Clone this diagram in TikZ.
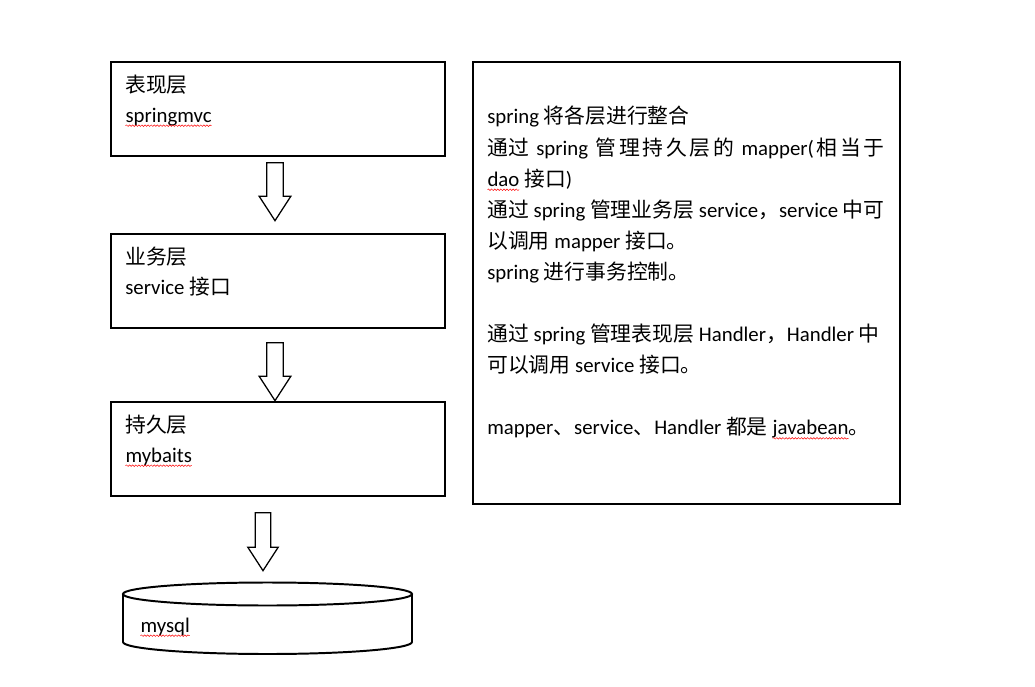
\documentclass[tikz,border=0pt]{standalone}
\usepackage{fontspec}
\setmainfont{Carlito}
\newfontfamily\cjk{Noto Sans CJK SC}
\usepackage{tikz}
\usetikzlibrary{shapes.arrows, positioning, decorations.pathmorphing}

\tikzset{squiggle/.style={draw=red, line width=0.35pt, decorate, decoration={snake, segment length=2.2pt, amplitude=0.55pt}}}

\newcommand{\zh}[1]{{\cjk #1}}
\newcommand{\fl}{\hskip 0pt plus 1fil}
\newcommand{\typo}[1]{\tikz[baseline=(w.base)]{\node[inner sep=0pt, outer sep=0pt, anchor=base] (w) {#1}; \path[squiggle] ([yshift=-2.6pt]w.base west) -- ([yshift=-2.6pt]w.base east);}}
\newcommand{\bodyfont}{\fontsize{14.8pt}{22.1pt}\selectfont}

\begin{document}
\begin{tikzpicture}[x=0.025cm, y=-0.025cm,
    layer/.style={draw, line width=1.4pt, minimum width=8.35cm, minimum height=2.35cm, anchor=north west, inner sep=0pt},
    note/.style={draw, line width=1.4pt, minimum width=10.675cm, minimum height=11.05cm, anchor=north west, inner sep=0pt},
    txt/.style={anchor=base west, inner sep=0pt, font=\bodyfont},
    down/.style={draw, line width=0.9pt, single arrow, rotate=-90, anchor=tail, inner sep=0.19cm, single arrow head extend=0.19cm, single arrow tip angle=66, minimum height=1.45cm}
]
    \useasboundingbox (0,0) rectangle (1035,686);

    % left column of layers
    \node[layer] (pres) at (110,61) {};
    \node[layer] (serv) at (110,233) {};
    \node[layer] (pers) at (110,401) {};
    \node[txt] (presname) at (125,92) {\zh{表现层}};
    \node[txt] (presimpl) at (125,122) {\typo{springmvc}};
    \node[txt] (servname) at (125,264) {\zh{业务层}};
    \node[txt] (servimpl) at (125,294) {service \zh{接口}};
    \node[txt] (persname) at (125,432) {\zh{持久层}};
    \node[txt] (persimpl) at (125,462) {\typo{mybaits}};

    % hollow arrows between layers
    \node[down] (a1) at (275,162) {};
    \node[down] (a2) at (275,342) {};
    \node[down, inner sep=0.175cm] (a3) at (263,512) {};

    % database
    \draw[line width=1.4pt] (123,594) -- (123,642) arc[start angle=180, end angle=0, x radius=144.5, y radius=12] -- (412,594);
    \draw[line width=1.4pt] (267.5,594) ellipse[x radius=144.5, y radius=11.5];
    \node[txt] (db) at (140,632) {\typo{mysql}};

    % explanation box
    \node[note] (expl) at (472,61) {};
    \node[anchor=north west, inner sep=0pt, font=\bodyfont, align=left] (expltext) at (487,106) {%
        spring \zh{将各层进行整合}\\
        \makebox[9.93cm][s]{\zh{通过}\fl{} spring\fl{} \zh{管}\fl\zh{理}\fl\zh{持}\fl\zh{久}\fl\zh{层}\fl\zh{的}\fl{} mapper(\fl\zh{相}\fl\zh{当}\fl\zh{于}}\\
        \typo{dao} \zh{接口})\\
        \zh{通过} spring \zh{管理业务层} service\zh{，}service \zh{中可}\\
        \zh{以调用} mapper \zh{接口。}\\
        spring \zh{进行事务控制。}\\[22.1pt]
        \zh{通过} spring \zh{管理表现层} Handler\zh{，}Handler \zh{中}\\
        \zh{可以调用} service \zh{接口。}\\[22.1pt]
        mapper\zh{、}service\zh{、}Handler \zh{都是} \typo{javabean}\zh{。}};
\end{tikzpicture}
\end{document}
